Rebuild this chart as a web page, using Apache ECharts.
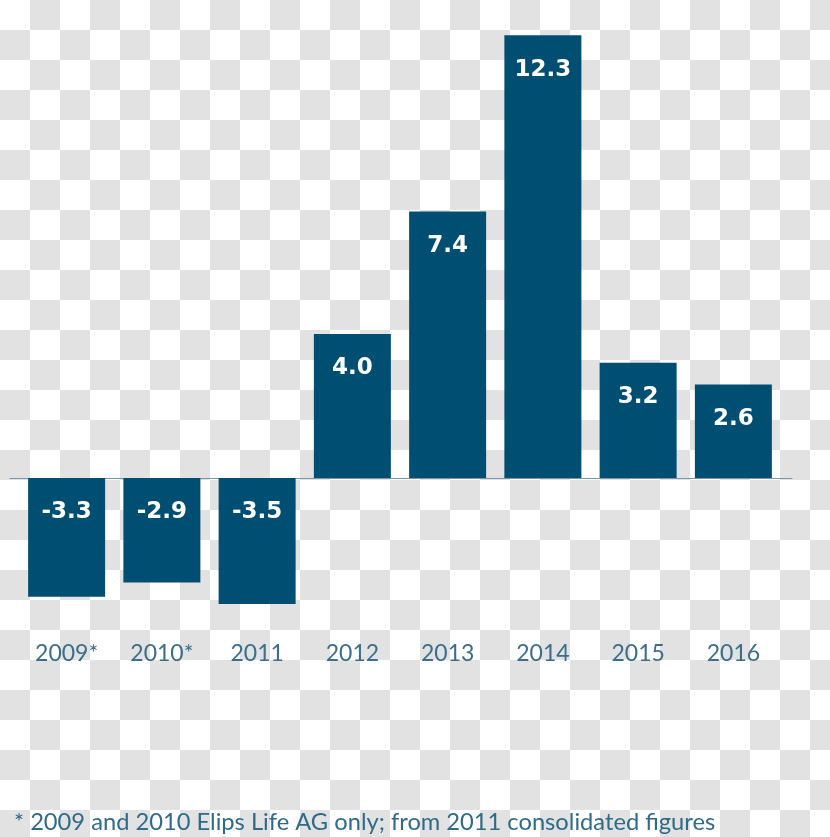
<!DOCTYPE html>
<html>
<head>
<meta charset="utf-8">
<script src="https://cdn.jsdelivr.net/npm/echarts@6/dist/echarts.min.js"></script>
<style>
  html, body { margin: 0; padding: 0; }
  body {
    width: 830px; height: 837px;
    background: conic-gradient(#e2e2e2 0 25%, #ffffff 0 50%, #e2e2e2 0 75%, #ffffff 0) 0 0 / 60px 60px;
  }
  #chart { width: 830px; height: 837px; }
</style>
</head>
<body>
<div id="chart"></div>
<script>
const categories = ['2009*', '2010*', '2011', '2012', '2013', '2014', '2015', '2016'];
const values = [-3.3, -2.9, -3.5, 4.0, 7.4, 12.3, 3.2, 2.6];
const footnote = '* 2009 and 2010 Elips Life AG only; from 2011 consolidated figures';

const chart = echarts.init(document.getElementById('chart'), null, { renderer: 'canvas' });
chart.setOption({
  backgroundColor: 'transparent',
  animation: false,
  title: {
    text: footnote,
    left: 9,
    top: 805,
    textStyle: { fontFamily: 'Lato', fontWeight: 'normal', fontSize: 23.7, color: '#2f6b88' }
  },
  grid: [
    { left: 19, right: 49, top: 10, bottom: 215 },
    { left: 10, right: 38, top: 10, bottom: 215 }
  ],
  xAxis: [
    {
      type: 'category', gridIndex: 0, data: categories,
      axisLine: { show: false, onZero: false },
      axisTick: { show: false },
      axisLabel: { margin: 20, fontFamily: 'Lato', fontSize: 23, color: '#3a6e8a' }
    },
    {
      type: 'category', gridIndex: 1, data: categories,
      axisLine: { show: true, onZero: true, lineStyle: { color: '#7896a8', width: 1 } },
      axisTick: { show: false },
      axisLabel: { show: false }
    }
  ],
  yAxis: [
    { type: 'value', gridIndex: 0, min: -4, max: 13, show: false, splitLine: { show: false } },
    { type: 'value', gridIndex: 1, min: -4, max: 13, show: false, splitLine: { show: false } }
  ],
  series: [{
    type: 'bar',
    xAxisIndex: 0, yAxisIndex: 0,
    data: values,
    barWidth: 77,
    itemStyle: { color: '#004e72' },
    label: {
      show: true,
      position: 'insideTop',
      distance: 23,
      fontFamily: 'DejaVu Sans',
      fontWeight: 'bold',
      fontSize: 23,
      color: '#ffffff',
      formatter: p => p.value.toFixed(1)
    }
  }]
});
</script>
</body>
</html>
